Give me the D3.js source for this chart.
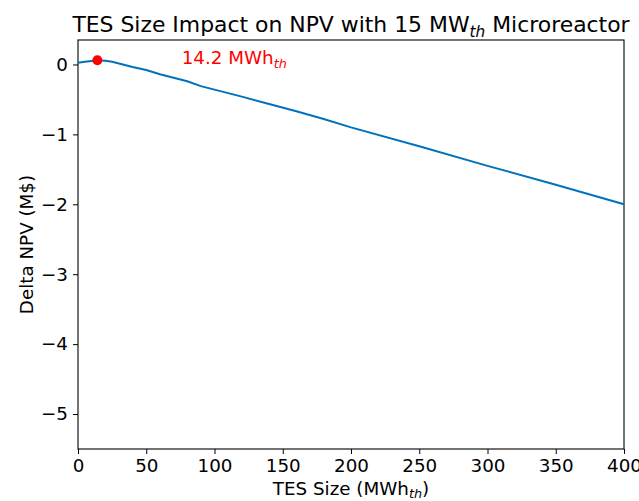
<!DOCTYPE html>
<html>
<head>
<meta charset="utf-8">
<script src="https://cdn.jsdelivr.net/npm/d3@7"></script>
<style>
  body { margin: 0; background: #fff; }
  svg { font-family: "DejaVu Sans", sans-serif; }
</style>
</head>
<body>
<div id="chart"></div>
<script>
// TES size (MWh_th) vs delta NPV (M$)
const tesSize = [0, 5, 10, 14.2, 20, 25, 30, 40, 50, 60, 70, 80, 90, 100, 120, 140, 160, 180, 200, 250, 300, 350, 400];
const deltaNpv = [0.025, 0.04, 0.05, 0.06, 0.052, 0.04, 0.015, -0.035, -0.08, -0.14, -0.19, -0.24, -0.31, -0.36, -0.46, -0.565, -0.67, -0.78, -0.9, -1.17, -1.45, -1.72, -2.0];
const optimum = { x: 14.2, y: 0.06, label: '14.2 MWh' };
const xTicks = [0, 50, 100, 150, 200, 250, 300, 350, 400];
const yTicks = [0, -1, -2, -3, -4, -5];

const width = 639, height = 501;
const margin = { top: 40, right: 15, bottom: 52, left: 78 };
const innerW = width - margin.left - margin.right;
const innerH = height - margin.top - margin.bottom;
const fs = 18.3;

const svg = d3.select('#chart').append('svg')
  .attr('width', width)
  .attr('height', height);

const x = d3.scaleLinear().domain([0, 400]).range([0, innerW]);
const y = d3.scaleLinear().domain([-5.5, 0.35]).range([innerH, 0]);

const g = svg.append('g').attr('transform', `translate(${margin.left},${margin.top})`);

// axes
const xAxis = g.append('g')
  .attr('transform', `translate(0,${innerH})`)
  .call(d3.axisBottom(x).tickValues(xTicks).tickSize(5).tickPadding(5).tickFormat(d3.format('d')));
const yAxis = g.append('g')
  .call(d3.axisLeft(y).tickValues(yTicks).tickSize(5).tickPadding(5)
    .tickFormat(d => d < 0 ? '\u2212' + Math.abs(d) : d));

[xAxis, yAxis].forEach(a => {
  a.selectAll('text').attr('font-size', fs).attr('fill', '#000').attr('font-family', '"DejaVu Sans", sans-serif');
  a.selectAll('line').attr('stroke', '#000').attr('stroke-width', 1);
  a.select('.domain').remove();
});

// frame
g.append('rect')
  .attr('width', innerW)
  .attr('height', innerH)
  .attr('fill', 'none')
  .attr('stroke', '#000')
  .attr('stroke-width', 1.1);

// the curve
const line = d3.line()
  .x((d, i) => x(tesSize[i]))
  .y(d => y(d));

g.append('path')
  .datum(deltaNpv)
  .attr('d', line)
  .attr('fill', 'none')
  .attr('stroke', '#0072BD')
  .attr('stroke-width', 2);

// optimum marker
g.append('circle')
  .attr('cx', x(optimum.x))
  .attr('cy', y(optimum.y))
  .attr('r', 5)
  .attr('fill', 'red');

const ann = g.append('text')
  .attr('x', x(76))
  .attr('y', y(0))
  .attr('font-size', fs)
  .attr('fill', 'red')
  .text(optimum.label);
ann.append('tspan').attr('font-style', 'italic').attr('font-size', fs * 0.7).attr('dy', 4).text('th');

// title
const tfs = 21.9;
const title = svg.append('text')
  .attr('x', margin.left + innerW / 2)
  .attr('y', 32)
  .attr('text-anchor', 'middle')
  .attr('font-size', tfs)
  .attr('fill', '#000')
  .text('TES Size Impact on NPV with 15 MW');
title.append('tspan').attr('font-style', 'italic').attr('font-size', tfs * 0.7).attr('dy', 5).text('th');
title.append('tspan').attr('dy', -5).text(' Microreactor');

// axis labels
const xl = svg.append('text')
  .attr('x', margin.left + innerW / 2)
  .attr('y', 495)
  .attr('text-anchor', 'middle')
  .attr('font-size', fs)
  .attr('fill', '#000')
  .text('TES Size (MWh');
xl.append('tspan').attr('font-style', 'italic').attr('font-size', fs * 0.7).attr('dy', 3).text('th');
xl.append('tspan').attr('dy', -3).text(')');

svg.append('text')
  .attr('transform', `translate(33,${margin.top + innerH / 2}) rotate(-90)`)
  .attr('text-anchor', 'middle')
  .attr('font-size', fs)
  .attr('fill', '#000')
  .text('Delta NPV (M$)');
</script>
</body>
</html>
